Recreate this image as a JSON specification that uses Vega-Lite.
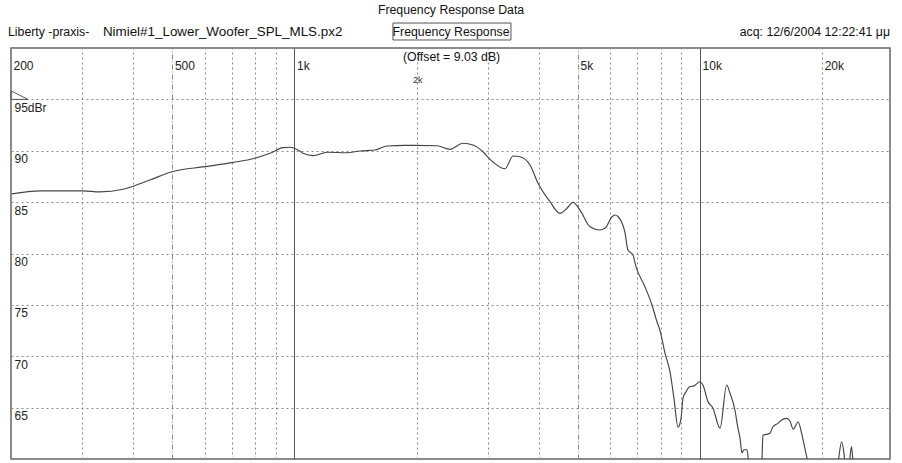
{
  "$schema": "https://vega.github.io/schema/vega-lite/v6.json",
  "width": 879,
  "height": 411,
  "autosize": {"type": "none"},
  "padding": {"left": 11, "top": 48, "right": 12, "bottom": 4},
  "background": "white",
  "config": {
    "view": {"stroke": "#666", "strokeWidth": 1.5},
    "axis": {"domain": false, "ticks": false, "tickSize": 0, "labelFont": "Liberation Sans", "labelFontSize": 12, "labelColor": "#222"},
    "text": {"font": "Liberation Sans", "fontSize": 12.3, "color": "#111"}
  },
  "encoding": {
    "x": {
      "field": "f", "type": "quantitative",
      "scale": {"type": "log", "domain": [200, 29400], "nice": false},
      "axis": {
        "orient": "top",
        "title": null,
        "values": [200,300,400,500,600,700,800,900,1000,2000,3000,4000,5000,6000,7000,8000,9000,10000,20000],
        "grid": true,
        "gridColor": {"condition": {"test": "datum.value == 1000 || datum.value == 10000", "value": "#555"}, "value": "#8a8a8a"},
        "gridDash": {"condition": [{"test": "datum.value == 1000 || datum.value == 10000", "value": []}, {"test": "datum.value == 500 || datum.value == 5000", "value": [5, 2, 1, 2]}], "value": [2, 3]},
        "labelExpr": "indexof([200,500,1000,5000,10000,20000], datum.value) >= 0 ? (datum.value >= 1000 ? (datum.value/1000) + 'k' : '' + datum.value) : ''",
        "labelAlign": "left",
        "labelBaseline": "top",
        "labelPadding": -12,
        "labelOffset": 2,
        "labelFlush": false,
        "labelOverlap": false,
        "labelBound": false
      }
    },
    "y": {
      "field": "db", "type": "quantitative",
      "scale": {"domain": [60, 100], "nice": false, "zero": false},
      "axis": {
        "orient": "left",
        "title": null,
        "values": [65,70,75,80,85,90,95],
        "grid": true,
        "gridColor": "#8a8a8a",
        "gridDash": [2, 3],
        "labelExpr": "datum.value == 95 ? '95dBr' : datum.label",
        "labelAlign": "left",
        "labelBaseline": "top",
        "labelPadding": -3,
        "labelOffset": 3,
        "labelFlush": false,
        "labelOverlap": false,
        "labelBound": false
      }
    }
  },
  "layer": [
    {
      "data": {"values": [
        {"f":201,"db":85.8},{"f":236,"db":86.1},{"f":301,"db":86.1},{"f":331,"db":86.0},{"f":378,"db":86.25},{"f":402,"db":86.57},{"f":440,"db":87.15},{"f":499,"db":87.96},{"f":602,"db":88.45},{"f":701,"db":88.84},{"f":799,"db":89.27},{"f":870,"db":89.75},{"f":937,"db":90.3},{"f":975,"db":90.34},{"f":1032,"db":89.95},{"f":1050,"db":89.75},{"f":1111,"db":89.52},{"f":1203,"db":89.85},{"f":1347,"db":89.81},{"f":1450,"db":89.98},{"f":1579,"db":90.07},{"f":1691,"db":90.46},{"f":1873,"db":90.53},{"f":1982,"db":90.53},{"f":2246,"db":90.49},{"f":2418,"db":90.14},{"f":2602,"db":90.73},{"f":2756,"db":90.56},{"f":2916,"db":89.9},{"f":3034,"db":89.17},{"f":3304,"db":88.25},{"f":3458,"db":89.49},{"f":3598,"db":89.42},{"f":3808,"db":88.61},{"f":3986,"db":86.83},{"f":4266,"db":85.04},{"f":4514,"db":83.91},{"f":4698,"db":84.4},{"f":4860,"db":84.98},{"f":5058,"db":84.23},{"f":5352,"db":82.61},{"f":5666,"db":82.29},{"f":5828,"db":82.45},{"f":6066,"db":83.58},{"f":6170,"db":83.75},{"f":6274,"db":83.6},{"f":6528,"db":82.05},{"f":6640,"db":80.34},{"f":6832,"db":79.85},{"f":6950,"db":78.72},{"f":7314,"db":76.77},{"f":7612,"db":74.99},{"f":7830,"db":73.36},{"f":7962,"db":72.55},{"f":8194,"db":70.3},{"f":8430,"db":68.5},{"f":8624,"db":65.9},{"f":8822,"db":63.1},{"f":8974,"db":63.9},{"f":9076,"db":65.91},{"f":9232,"db":66.55},{"f":9444,"db":67.05},{"f":9660,"db":67.12},{"f":9994,"db":67.52},{"f":10166,"db":67.2},{"f":10458,"db":65.6},{"f":10760,"db":64.95},{"f":11200,"db":63.0},{"f":11634,"db":67.2},{"f":11854,"db":66.4},{"f":12190,"db":64.77},{"f":12400,"db":63.0},{"f":12540,"db":62.1},{"f":12690,"db":60.6},{"f":12830,"db":60.9},{"f":13048,"db":60.9},{"f":13200,"db":59.5},{"f":13350,"db":58.5},{"f":14100,"db":58.5},{"f":14170,"db":58.5},{"f":14290,"db":62.3},{"f":14870,"db":62.5},{"f":15120,"db":63.14},{"f":15560,"db":63.47},{"f":15890,"db":63.8},{"f":16350,"db":63.96},{"f":16660,"db":63.7},{"f":16970,"db":62.9},{"f":17460,"db":63.6},{"f":17800,"db":62.5},{"f":18140,"db":61.0},{"f":18480,"db":59.6},{"f":18800,"db":58.5},{"f":21640,"db":58.5},{"f":21920,"db":59.8},{"f":22340,"db":61.68},{"f":22630,"db":60.6},{"f":22900,"db":58.5},{"f":23360,"db":59.8},{"f":23640,"db":61.2},{"f":23960,"db":58.5},{"f":29400,"db":58.5}
      ]},
      "mark": {"type": "line", "clip": true, "color": "#444", "strokeWidth": 1.15, "interpolate": "monotone"}
    },
    {
      "data": {"values": [{"f": 200, "db": 95}]},
      "mark": {"type": "point", "shape": "M0,-0.5L0,0L1,0Z", "size": 1156, "filled": false, "stroke": "#555", "strokeWidth": 1, "opacity": 1}
    },
    {
      "data": {"values": [{"f": 1749, "f2": 3418, "db": 100.78, "db2": 102.43}]},
      "mark": {"type": "rect", "fill": "white", "stroke": "#555", "strokeWidth": 1},
      "encoding": {"x2": {"field": "f2"}, "y2": {"field": "db2"}}
    },
    {
      "data": {"values": [
        {"f": 2432, "db": 103.7, "label": "Frequency Response Data"},
        {"f": 2432, "db": 101.6, "label": "Frequency Response"},
        {"f": 2440, "db": 99.15, "label": "(Offset = 9.03 dB)"}
      ]},
      "mark": {"type": "text", "align": "center", "baseline": "middle"},
      "encoding": {"text": {"field": "label"}}
    },
    {
      "data": {"values": [
        {"f": 196.6, "db": 101.6, "label": "Liberty -praxis-"}
      ]},
      "mark": {"type": "text", "align": "left", "baseline": "middle"},
      "encoding": {"text": {"field": "label"}}
    },
    {
      "data": {"values": [
        {"f": 337, "db": 101.6, "label": "Nimiel#1_Lower_Woofer_SPL_MLS.px2"}
      ]},
      "mark": {"type": "text", "align": "left", "baseline": "middle", "fontSize": 13.4},
      "encoding": {"text": {"field": "label"}}
    },
    {
      "data": {"values": [
        {"f": 1960, "db": 96.9, "label": "2k"}
      ]},
      "mark": {"type": "text", "align": "left", "baseline": "middle", "fontSize": 9, "color": "#333"},
      "encoding": {"text": {"field": "label"}}
    },
    {
      "data": {"values": [
        {"f": 29400, "db": 101.6, "label": "acq: 12/6/2004 12:22:41 μμ"}
      ]},
      "mark": {"type": "text", "align": "right", "baseline": "middle"},
      "encoding": {"text": {"field": "label"}}
    }
  ]
}
